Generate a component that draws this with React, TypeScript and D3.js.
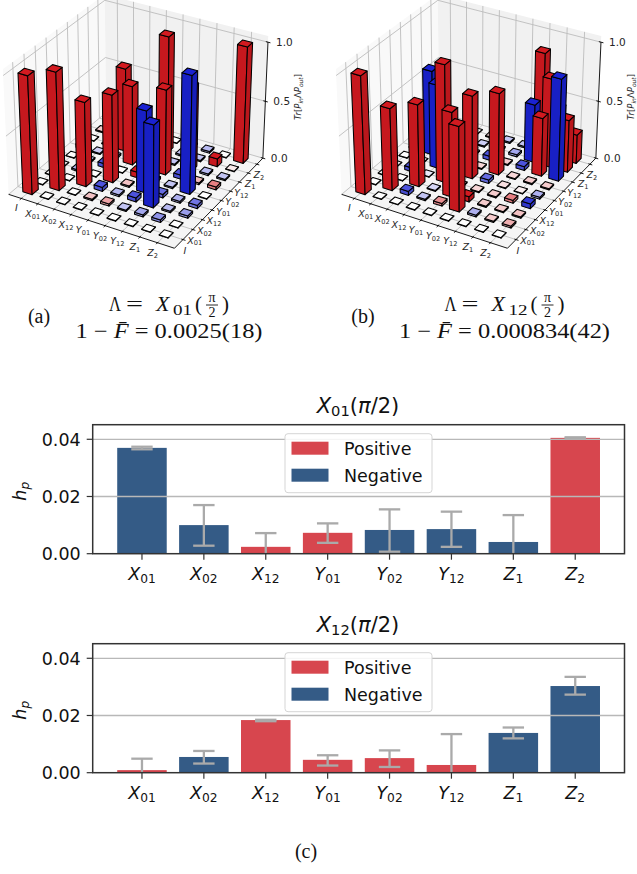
import * as d3 from 'd3'

// axis labels
const pauliBase = ['I', 'X', 'X', 'X', 'Y', 'Y', 'Y', 'Z', 'Z']
const pauliSub = ['', '01', '02', '12', '01', '02', '12', '1', '2']
const zTicks = [0, 0.5, 1]

// transfer matrices, one row per y label, one column per x label
const rowsA = [
  [1, 0, 0, 0, 0, 0, 0, 0, 0],
  [0, 1, 0, 0.012, 0.018, -0.012, -0.018, -0.022, 0],
  [0, 0, 0.72, -0.035, -0.015, -0.035, -0.7, -0.014, -0.02],
  [0, -0.014, 0, 0.75, 0.012, -0.7, -0.03, -0.016, -0.028],
  [0, -0.012, -0.035, 0, 0.05, -0.02, -0.012, -1, 0],
  [-0.03, -0.01, -0.016, 0.68, 0.02, 0.73, -0.035, 0.014, 0.025],
  [0, 0, 0.72, 0, -0.01, -0.012, 0.72, -0.014, -0.012],
  [0.01, 0.003, 0.012, -0.008, 1, -0.012, -0.012, 0.07, 0.004],
  [0.004, 0, -0.008, 0.01, 0, -0.008, -0.014, 0, 1],
]
const rowsB = [
  [1, 0, 0, 0, 0, 0, 0, 0, 0],
  [0, 0.7, -0.035, -0.012, 0.022, 0.72, -0.016, 0.01, 0.016],
  [0, 0, 0.7, -0.008, 0.72, 0.045, 0.01, 0.01, 0.012],
  [0, -0.035, -0.004, 1, 0.008, 0.008, 0.01, 0.025, -0.04],
  [0, 0, -0.72, 0, 0.71, -0.03, 0.006, 0.003, -0.016],
  [0, -0.73, 0, 0, 0.008, 0.7, 0.008, 0.01, 0.01],
  [0, 0, 0.006, 0.01, -0.035, 0.01, -0.035, 0.5, -0.87],
  [0, 0, 0.01, -0.01, -0.012, -0.018, -0.5, 0.76, 0.45],
  [0, 0, 0, 0.008, -0.012, -0.012, 0.87, 0.43, 0.25],
]

// bar charts below
const barLabels = ['X01', 'X02', 'X12', 'Y01', 'Y02', 'Y12', 'Z1', 'Z2']
const valuesA = [0.037, 0.01, 0.0024, 0.0073, 0.0083, 0.0086, 0.0041, 0.0405]
const signsA = ['n', 'n', 'p', 'p', 'n', 'n', 'n', 'p']
const lowA = [0.0365, 0.0028, 0, 0.0038, 0.0007, 0.0024, 0, 0.0403]
const highA = [0.0374, 0.017, 0.0072, 0.0106, 0.0155, 0.0147, 0.0135, 0.0407]
const valuesB = [0.0009, 0.0055, 0.0184, 0.0045, 0.0051, 0.0027, 0.0139, 0.0303]
const signsB = ['p', 'n', 'p', 'p', 'p', 'p', 'n', 'n']
const lowB = [0, 0.0032, 0.018, 0.0025, 0.002, 0, 0.012, 0.0273]
const highB = [0.0049, 0.0076, 0.0185, 0.0061, 0.0078, 0.0135, 0.0158, 0.0335]

const RED = '#d7464e'
const BLUE = '#345b86'
const sansFont = 'DejaVu Sans'
const serifFont = 'Liberation Serif'

// camera, same as a matplotlib 3d axes
const elev = (30 * Math.PI) / 180
const azim = (-60 * Math.PI) / 180
const dist = 8.75
const toEye = [Math.cos(elev) * Math.cos(azim), Math.cos(elev) * Math.sin(azim), Math.sin(elev)]
const right = [-Math.sin(azim), Math.cos(azim), 0]
const up = [-Math.sin(elev) * Math.cos(azim), -Math.sin(elev) * Math.sin(azim), Math.cos(elev)]
const dot = (a: number[], b: number[]) => a[0] * b[0] + a[1] * b[1] + a[2] * b[2]

const xBox = d3.scaleLinear().domain([-0.78, 8.95]).range([-0.5, 0.5])
const yBox = d3.scaleLinear().domain([-0.85, 8.7]).range([-0.5, 0.5])
const zBox = d3.scaleLinear().domain([0, 1.05]).range([-0.375, 0.375])
const xMin = xBox.domain()[0]
const xMax = xBox.domain()[1]
const yMin = yBox.domain()[0]
const yMax = yBox.domain()[1]
const zMax = zBox.domain()[1]
const screenX = d3.scaleLinear().domain([0, 1]).range([138, 138 + 1663])
const screenY = d3.scaleLinear().domain([0, 1]).range([115.5, 115.5 - 1663])

const project = (x: number, y: number, z: number): [number, number] => {
  const p = [xBox(x), yBox(y), zBox(z)]
  const w = dist - dot(p, toEye)
  return [screenX(dot(p, right) / w), screenY(dot(p, up) / w)]
}
const line3d = (pts: number[][]) =>
  d3.line()(pts.map((p) => project(p[0], p[1], p[2])))
const poly3d = (pts: number[][]) => line3d(pts) + 'Z'

const cellColor = d3
  .scaleLinear<string>()
  .domain([-0.045, 0, 0.045])
  .range(['#1a22d2', '#ffffff', '#d31a20'])
  .clamp(true)
const shade = (c: string, k: number) => {
  const rgb = d3.rgb(c)
  return d3.rgb(rgb.r * k, rgb.g * k, rgb.b * k).formatHex()
}

const Pauli = ({ x, y, i, size }: { x: number; y: number; i: number; size: number }) => (
  <text x={x} y={y} textAnchor="middle" fontFamily={sansFont} fontSize={size} fill="#262626">
    <tspan fontStyle="italic">{pauliBase[i]}</tspan>
    {pauliSub[i] && (
      <tspan fontSize={size * 0.7} dy={size * 0.2}>
        {pauliSub[i]}
      </tspan>
    )}
  </text>
)

const Cube = ({ x, y, v }: { x: number; y: number; v: number }) => {
  // the flat tiles read a little narrower than the tall bars
  const half = Math.abs(v) > 0.1 ? 0.285 : 0.25
  const h = Math.max(Math.abs(v), 0.004)
  const x0 = x - half
  const x1 = x + half
  const y0 = y - half
  const y1 = y + half
  const color = cellColor(v)
  return (
    <g stroke="#000" strokeWidth={1.05} strokeLinejoin="round">
      <path d={poly3d([[x0, y0, 0], [x1, y0, 0], [x1, y0, h], [x0, y0, h]])} fill={shade(color, 0.94)} />
      <path d={poly3d([[x1, y0, 0], [x1, y1, 0], [x1, y1, h], [x1, y0, h]])} fill={shade(color, 0.88)} />
      <path d={poly3d([[x0, y0, h], [x1, y0, h], [x1, y1, h], [x0, y1, h]])} fill={color} />
    </g>
  )
}

const Panel3D = ({ rows, dx }: { rows: number[][]; dx: number }) => {
  const cells = rows.flatMap((row, y) => row.map((v, x) => ({ x, y, v })))
  // far cells first so the near ones cover them
  const sorted = d3.sort(cells, (a, b) =>
    d3.ascending(a.x * toEye[0] + a.y * toEye[1], b.x * toEye[0] + b.y * toEye[1])
  )
  const ticks = d3.range(9)
  const grid = '#bcbcbc'
  return (
    <g transform={`translate(${dx},0)`}>
      <path d={poly3d([[xMin, yMin, 0], [xMin, yMax, 0], [xMin, yMax, zMax], [xMin, yMin, zMax]])} fill="#f9f9f9" />
      <path d={poly3d([[xMin, yMax, 0], [xMax, yMax, 0], [xMax, yMax, zMax], [xMin, yMax, zMax]])} fill="#f1f1f1" />
      <path d={poly3d([[xMin, yMin, 0], [xMax, yMin, 0], [xMax, yMax, 0], [xMin, yMax, 0]])} fill="#f5f5f5" />
      <g fill="none" stroke={grid} strokeWidth={0.9}>
        {ticks.map((t) => (
          <g key={t}>
            <path d={line3d([[t, yMin, 0], [t, yMax, 0], [t, yMax, zMax]])!} />
            <path d={line3d([[xMax, t, 0], [xMin, t, 0], [xMin, t, zMax]])!} />
          </g>
        ))}
        {zTicks.map((z) => (
          <path key={z} d={line3d([[xMin, yMin, z], [xMin, yMax, z], [xMax, yMax, z]])!} />
        ))}
      </g>
      <g fill="none" stroke="#000" strokeWidth={0.9}>
        <path d={line3d([[xMin, yMin, 0], [xMax, yMin, 0], [xMax, yMax, 0]])!} />
        <path d={line3d([[xMax, yMax, 0], [xMax, yMax, 1]])!} />
        {ticks.map((t) => (
          <g key={t}>
            <path d={line3d([[t, yMin - 0.14, 0], [t, yMin + 0.09, 0]])!} />
            <path d={line3d([[xMax + 0.14, t, 0], [xMax - 0.09, t, 0]])!} />
          </g>
        ))}
        {zTicks.map((z) => (
          <path key={z} d={line3d([[xMax + 0.14, yMax, z], [xMax - 0.12, yMax, z]])!} />
        ))}
      </g>
      {sorted.map((c) => (
        <Cube key={`${c.x}-${c.y}`} x={c.x} y={c.y} v={c.v} />
      ))}
      {ticks.map((t) => {
        const px = project(t, yMin, 0)
        const py = project(xMax, t, 0)
        return (
          <g key={t}>
            <Pauli x={px[0] - 5} y={px[1] + 13} i={t} size={9.5} />
            <Pauli x={py[0] + 2} y={py[1] + 14} i={t} size={9.5} />
          </g>
        )
      })}
      {zTicks.map((z) => {
        const p = project(xMax, yMax, z)
        return (
          <text key={z} x={p[0] + 8} y={p[1] + 4} fontFamily={sansFont} fontSize={10.5} fill="#262626">
            {d3.format('.1f')(z)}
          </text>
        )
      })}
      <text
        transform="translate(301,97) rotate(-90)"
        textAnchor="middle"
        fontFamily={sansFont}
        fontSize={8.5}
        fill="#262626"
      >
        <tspan fontStyle="italic">Tr</tspan>[<tspan fontStyle="italic">P</tspan>
        <tspan fontSize={6} dy={2} fontStyle="italic">in</tspan>
        <tspan dy={-2}>Λ</tspan>
        <tspan fontStyle="italic">P</tspan>
        <tspan fontSize={6} dy={2} fontStyle="italic">out</tspan>
        <tspan dy={-2}>]</tspan>
      </text>
    </g>
  )
}

const Caption = ({
  tag,
  tagX,
  cx,
  gate,
  rhs,
  rhsWidth,
}: {
  tag: string
  tagX: number
  cx: number
  gate: string
  rhs: string
  rhsWidth: number
}) => (
  <g fontFamily={serifFont} fontSize={21} fill="#111">
    <text x={tagX} y={323} textAnchor="middle" fontSize={20}>{tag}</text>
    <text x={cx - 60} y={311} textLength={12} lengthAdjust="spacingAndGlyphs">Λ</text>
    <text x={cx - 43} y={311} textLength={17} lengthAdjust="spacingAndGlyphs">=</text>
    <text x={cx - 13} y={311} fontStyle="italic" fontSize={22}>X</text>
    <text x={cx + 4} y={315} fontSize={14.5} textLength={19} lengthAdjust="spacingAndGlyphs">{gate}</text>
    <text x={cx + 26} y={311}>(</text>
    <text x={cx + 43} y={302} fontSize={14} textAnchor="middle">π</text>
    <line x1={cx + 37} x2={cx + 49} y1={305} y2={305} stroke="#111" strokeWidth={0.9} />
    <text x={cx + 43} y={317} fontSize={14} textAnchor="middle">2</text>
    <text x={cx + 53} y={311}>)</text>
    <text x={cx} y={338} textAnchor="middle" textLength={rhsWidth} lengthAdjust="spacingAndGlyphs">
      1 − <tspan fontStyle="italic">F̄</tspan> = {rhs}
    </text>
  </g>
)

const BarChart = ({
  gate,
  top,
  bottom,
  values,
  signs,
  low,
  high,
}: {
  gate: string
  top: number
  bottom: number
  values: number[]
  signs: string[]
  low: number[]
  high: number[]
}) => {
  const left = 92.7
  const rightEdge = 624.5
  const x = d3.scaleBand<string>().domain(barLabels).range([left, rightEdge]).paddingInner(0.2).paddingOuter(0.396)
  const y = d3.scaleLinear().domain([0, 0.0451]).range([bottom, top])
  const cap = 10.7
  const labelSize = 17.5
  return (
    <g>
      <text x={358} y={top - 12} textAnchor="middle" fontFamily={sansFont} fontSize={21} fill="#111">
        <tspan fontStyle="italic">X</tspan>
        <tspan fontSize={14.7} dy={3.5}>{gate}</tspan>
        <tspan dy={-3.5}>(</tspan>
        <tspan fontStyle="italic">π</tspan>/2)
      </text>
      {barLabels.map((l, i) => (
        <rect
          key={l}
          x={x(l)}
          y={y(values[i])}
          width={x.bandwidth()}
          height={bottom - y(values[i])}
          fill={signs[i] === 'p' ? RED : BLUE}
        />
      ))}
      {[0.02, 0.04].map((t) => (
        <line key={t} x1={left} x2={rightEdge} y1={y(t)} y2={y(t)} stroke="#b8b8b8" strokeWidth={1.3} />
      ))}
      {barLabels.map((l, i) => {
        const c = x(l)! + x.bandwidth() / 2
        return (
          <g key={l} stroke="#aaaaaa" strokeWidth={2.3}>
            <line x1={c} x2={c} y1={y(low[i])} y2={y(high[i])} />
            <line x1={c - cap} x2={c + cap} y1={y(high[i])} y2={y(high[i])} />
            {low[i] > 0 && <line x1={c - cap} x2={c + cap} y1={y(low[i])} y2={y(low[i])} />}
          </g>
        )
      })}
      <rect x={left} y={top} width={rightEdge - left} height={bottom - top} fill="none" stroke="#333" strokeWidth={1.5} />
      {[0, 0.02, 0.04].map((t) => (
        <g key={t}>
          <line x1={left - 6} x2={left} y1={y(t)} y2={y(t)} stroke="#333" strokeWidth={1.2} />
          <text x={left - 12} y={y(t) + 6.5} textAnchor="end" fontFamily={sansFont} fontSize={labelSize} fill="#111">
            {d3.format('.2f')(t)}
          </text>
        </g>
      ))}
      {barLabels.map((l) => {
        const c = x(l)! + x.bandwidth() / 2
        return (
          <g key={l}>
            <line x1={c} x2={c} y1={bottom} y2={bottom + 6} stroke="#333" strokeWidth={1.2} />
            <text x={c} y={bottom + 26.5} textAnchor="middle" fontFamily={sansFont} fontSize={labelSize} fill="#111">
              <tspan fontStyle="italic">{l[0]}</tspan>
              <tspan fontSize={labelSize * 0.7} dy={3}>{l.slice(1)}</tspan>
            </text>
          </g>
        )
      })}
      <text
        transform={`translate(26,${(top + bottom) / 2 + 2}) rotate(-90)`}
        textAnchor="middle"
        fontFamily={sansFont}
        fontSize={labelSize}
        fill="#111"
      >
        <tspan fontStyle="italic">h</tspan>
        <tspan fontSize={labelSize * 0.7} dy={3} fontStyle="italic">p</tspan>
      </text>
      <g transform={`translate(285,${top + 9})`}>
        <rect width={147} height={59} rx={3} fill="#fff" fillOpacity={0.85} stroke="#d5d5d5" strokeWidth={1} />
        <rect x={6.5} y={8} width={37} height={13} fill={RED} />
        <rect x={6.5} y={35} width={37} height={13} fill={BLUE} />
        <text x={59} y={21} fontFamily={sansFont} fontSize={labelSize} fill="#111">Positive</text>
        <text x={59} y={48} fontFamily={sansFont} fontSize={labelSize} fill="#111">Negative</text>
      </g>
    </g>
  )
}

const App = () => (
  <svg width={637} height={874} style={{ position: 'absolute', left: 0, top: 0, background: '#fff' }}>
    <Panel3D rows={rowsA} dx={0} />
    <Panel3D rows={rowsB} dx={333} />
    <Caption tag="(a)" tagX={39} cx={169} gate="01" rhs="0.0025(18)" rhsWidth={187} />
    <Caption tag="(b)" tagX={363} cx={504.5} gate="12" rhs="0.000834(42)" rhsWidth={211} />
    <BarChart gate="01" top={424.7} bottom={553.7} values={valuesA} signs={signsA} low={lowA} high={highA} />
    <BarChart gate="12" top={643.7} bottom={772.7} values={valuesB} signs={signsB} low={lowB} high={highB} />
    <text x={306} y={858} textAnchor="middle" fontFamily={serifFont} fontSize={20} fill="#111">(c)</text>
  </svg>
)

export default App
